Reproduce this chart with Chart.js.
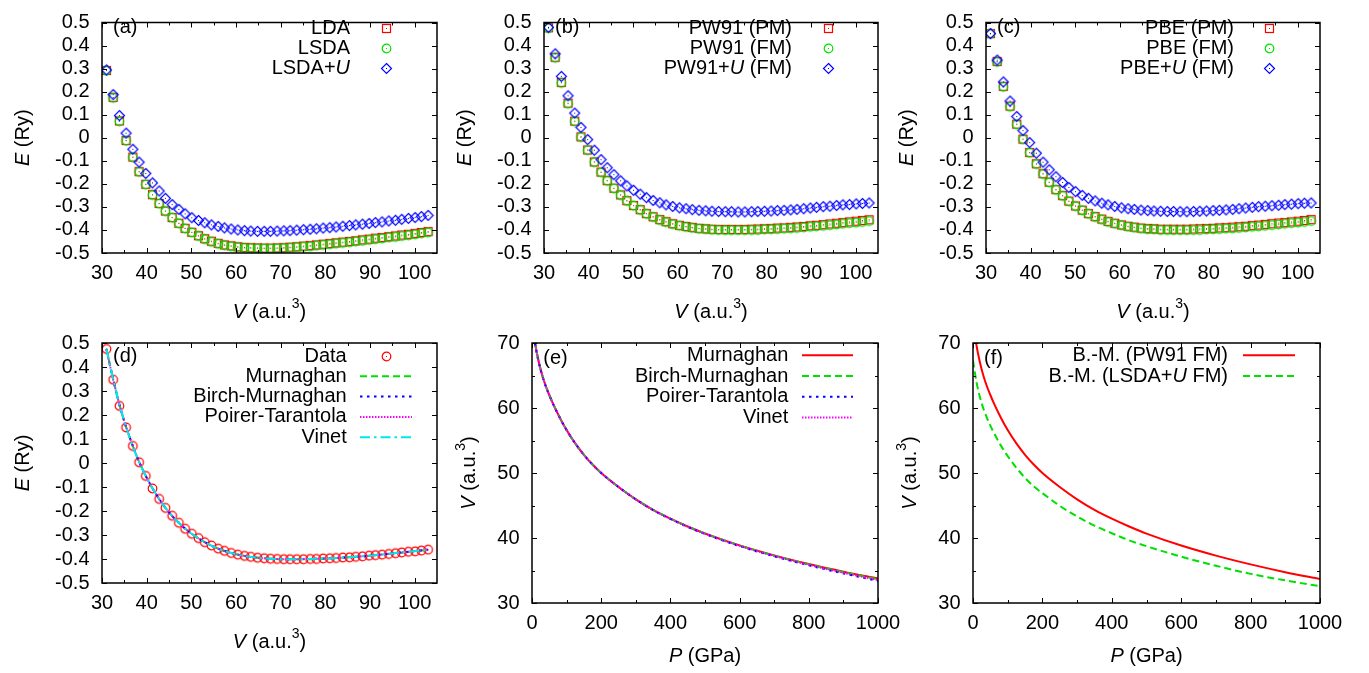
<!DOCTYPE html>
<html><head><meta charset="utf-8">
<script src="https://cdn.jsdelivr.net/npm/chart.js"></script>
<style>
html,body{margin:0;padding:0;background:#fff;width:1369px;height:673px;overflow:hidden}
canvas{position:absolute;left:0;top:0;pointer-events:none}
</style></head><body>
<script>
// ---------------- data ----------------
const volumes = [31.0, 32.5, 33.9, 35.4, 36.9, 38.3, 39.8, 41.3, 42.8, 44.2,
  45.7, 47.2, 48.6, 50.1, 51.6, 53.0, 54.5, 56.0, 57.4, 58.9,
  60.4, 61.9, 63.3, 64.8, 66.3, 67.7, 69.2, 70.7, 72.1, 73.6,
  75.1, 76.6, 78.0, 79.5, 81.0, 82.4, 83.9, 85.4, 86.8, 88.3,
  89.8, 91.2, 92.7, 94.2, 95.7, 97.1, 98.6, 100.1, 101.5, 103.0];

const ldaE = [0.292, 0.175, 0.073, -0.012, -0.084, -0.147, -0.202, -0.247, -0.285, -0.318,
  -0.346, -0.371, -0.393, -0.410, -0.425, -0.438, -0.449, -0.458, -0.465, -0.469,
  -0.473, -0.476, -0.477, -0.478, -0.479, -0.479, -0.478, -0.477, -0.475, -0.473,
  -0.470, -0.468, -0.465, -0.462, -0.459, -0.456, -0.453, -0.450, -0.447, -0.443,
  -0.440, -0.436, -0.433, -0.429, -0.426, -0.422, -0.419, -0.415, -0.411, -0.407];
const lsdaE = [0.291, 0.173, 0.071, -0.013, -0.085, -0.148, -0.203, -0.248, -0.286, -0.319,
  -0.347, -0.372, -0.394, -0.411, -0.426, -0.440, -0.451, -0.460, -0.467, -0.471,
  -0.475, -0.478, -0.479, -0.480, -0.481, -0.481, -0.480, -0.479, -0.477, -0.475,
  -0.473, -0.471, -0.468, -0.465, -0.462, -0.459, -0.456, -0.453, -0.450, -0.447,
  -0.443, -0.440, -0.437, -0.433, -0.430, -0.426, -0.423, -0.419, -0.415, -0.411];
const lsdaUE = [0.294, 0.187, 0.096, 0.020, -0.050, -0.106, -0.155, -0.196, -0.231, -0.263,
  -0.290, -0.311, -0.330, -0.347, -0.359, -0.369, -0.378, -0.385, -0.391, -0.396,
  -0.400, -0.403, -0.405, -0.406, -0.406, -0.406, -0.405, -0.404, -0.403, -0.401,
  -0.399, -0.397, -0.395, -0.392, -0.390, -0.387, -0.384, -0.381, -0.378, -0.375,
  -0.372, -0.368, -0.365, -0.361, -0.358, -0.354, -0.350, -0.346, -0.342, -0.337];

const pw91PME = [0.477, 0.349, 0.240, 0.150, 0.072, 0.004, -0.053, -0.105, -0.149, -0.186,
  -0.219, -0.248, -0.273, -0.294, -0.312, -0.329, -0.343, -0.355, -0.364, -0.373,
  -0.380, -0.385, -0.389, -0.393, -0.395, -0.397, -0.398, -0.398, -0.398, -0.398,
  -0.398, -0.397, -0.396, -0.395, -0.394, -0.392, -0.391, -0.389, -0.387, -0.385,
  -0.382, -0.380, -0.377, -0.374, -0.371, -0.368, -0.365, -0.362, -0.359, -0.356];
const pw91FME = [0.475, 0.347, 0.238, 0.148, 0.071, 0.003, -0.054, -0.106, -0.150, -0.187,
  -0.220, -0.249, -0.274, -0.295, -0.313, -0.330, -0.344, -0.357, -0.366, -0.375,
  -0.382, -0.387, -0.391, -0.395, -0.397, -0.399, -0.400, -0.401, -0.401, -0.401,
  -0.401, -0.400, -0.400, -0.398, -0.397, -0.396, -0.394, -0.393, -0.391, -0.389,
  -0.386, -0.384, -0.382, -0.379, -0.376, -0.373, -0.370, -0.368, -0.365, -0.361];
const pw91UE = [0.479, 0.364, 0.266, 0.182, 0.107, 0.045, -0.008, -0.054, -0.095, -0.130,
  -0.160, -0.187, -0.209, -0.228, -0.245, -0.260, -0.272, -0.282, -0.291, -0.298,
  -0.304, -0.308, -0.312, -0.315, -0.317, -0.319, -0.320, -0.321, -0.321, -0.322,
  -0.322, -0.321, -0.320, -0.319, -0.318, -0.316, -0.315, -0.313, -0.311, -0.308,
  -0.305, -0.302, -0.299, -0.297, -0.294, -0.291, -0.290, -0.287, -0.285, -0.283];

const pbePME = [0.452, 0.331, 0.223, 0.137, 0.059, -0.006, -0.064, -0.113, -0.156, -0.193,
  -0.225, -0.251, -0.275, -0.296, -0.314, -0.329, -0.342, -0.353, -0.363, -0.371,
  -0.378, -0.384, -0.388, -0.392, -0.394, -0.395, -0.397, -0.397, -0.397, -0.397,
  -0.397, -0.396, -0.395, -0.394, -0.393, -0.391, -0.390, -0.388, -0.386, -0.384,
  -0.381, -0.379, -0.376, -0.373, -0.370, -0.368, -0.365, -0.362, -0.359, -0.355];
const pbeFME = [0.451, 0.329, 0.221, 0.135, 0.058, -0.007, -0.065, -0.114, -0.157, -0.194,
  -0.226, -0.252, -0.276, -0.297, -0.315, -0.330, -0.344, -0.355, -0.365, -0.373,
  -0.380, -0.386, -0.390, -0.394, -0.397, -0.398, -0.400, -0.400, -0.401, -0.401,
  -0.401, -0.400, -0.400, -0.398, -0.397, -0.396, -0.394, -0.393, -0.391, -0.389,
  -0.386, -0.384, -0.382, -0.379, -0.376, -0.373, -0.370, -0.368, -0.365, -0.361];
const pbeUE = [0.452, 0.337, 0.242, 0.159, 0.092, 0.031, -0.021, -0.067, -0.106, -0.139,
  -0.169, -0.194, -0.216, -0.234, -0.250, -0.263, -0.274, -0.284, -0.291, -0.298,
  -0.304, -0.308, -0.311, -0.314, -0.316, -0.318, -0.319, -0.320, -0.320, -0.321,
  -0.321, -0.320, -0.319, -0.318, -0.316, -0.315, -0.313, -0.311, -0.308, -0.305,
  -0.302, -0.299, -0.297, -0.295, -0.293, -0.290, -0.288, -0.286, -0.284, -0.283];

const fitV = [31, 32, 33, 34, 35, 36.5, 38, 40, 42, 44, 46, 48, 50, 53, 56, 60, 64, 68, 72, 76, 80, 85, 90, 95, 100, 103];
const fitMurnE = [0.476, 0.390, 0.310, 0.236, 0.172, 0.091, 0.018, -0.061, -0.127, -0.182, -0.227, -0.263, -0.294, -0.330, -0.357, -0.380, -0.393, -0.399, -0.401, -0.401, -0.398, -0.393, -0.386, -0.377, -0.368, -0.361];
const fitBirchE = [0.474, 0.389, 0.310, 0.237, 0.173, 0.091, 0.018, -0.061, -0.127, -0.182, -0.227, -0.263, -0.294, -0.330, -0.357, -0.380, -0.393, -0.399, -0.401, -0.400, -0.398, -0.393, -0.386, -0.377, -0.367, -0.361];
const fitPoirerE = [0.473, 0.388, 0.309, 0.237, 0.173, 0.092, 0.019, -0.061, -0.127, -0.182, -0.227, -0.263, -0.294, -0.330, -0.357, -0.380, -0.393, -0.399, -0.401, -0.400, -0.398, -0.393, -0.386, -0.377, -0.367, -0.360];
const fitVinetE = [0.474, 0.389, 0.310, 0.237, 0.173, 0.091, 0.018, -0.061, -0.127, -0.182, -0.227, -0.263, -0.294, -0.330, -0.357, -0.380, -0.393, -0.399, -0.401, -0.400, -0.398, -0.393, -0.386, -0.377, -0.367, -0.361];

const pressures = [0, 10, 20, 30, 40, 50, 60, 80, 100, 125, 150, 175, 200, 250, 300, 350, 400, 450, 500, 600, 700, 800, 900, 1000];
const vMurn   = [73.5, 69.65, 67.0, 64.95, 63.35, 62.0, 60.75, 58.55, 56.6, 54.55, 52.8, 51.3, 50.0, 47.85, 45.95, 44.33, 42.97, 41.77, 40.7, 38.86, 37.33, 36.0, 34.82, 33.75];
const vBirch  = [73.5, 69.65, 67.0, 64.95, 63.35, 62.0, 60.75, 58.55, 56.6, 54.55, 52.8, 51.3, 50.0, 47.85, 45.95, 44.33, 42.97, 41.77, 40.68, 38.84, 37.29, 35.94, 34.74, 33.65];
const vPoirer = [73.2, 69.5, 66.9, 64.9, 63.3, 61.95, 60.73, 58.55, 56.6, 54.55, 52.8, 51.3, 50.0, 47.85, 45.95, 44.3, 42.93, 41.71, 40.62, 38.76, 37.18, 35.8, 34.55, 33.4];
const vVinet  = [73.3, 69.55, 66.95, 64.92, 63.32, 61.97, 60.74, 58.55, 56.6, 54.55, 52.8, 51.3, 50.0, 47.85, 45.95, 44.31, 42.95, 41.74, 40.65, 38.8, 37.24, 35.87, 34.65, 33.52];
const vBMPW91   = [73.5, 69.65, 67.0, 64.95, 63.35, 62.0, 60.75, 58.55, 56.6, 54.55, 52.8, 51.3, 50.0, 47.85, 45.95, 44.33, 42.97, 41.77, 40.68, 38.84, 37.29, 35.94, 34.74, 33.7];
const vBMLSDAU  = [67.3, 64.0, 61.65, 59.9, 58.5, 57.3, 56.2, 54.25, 52.6, 50.8, 49.25, 47.95, 46.9, 44.95, 43.31, 41.9, 40.73, 39.65, 38.74, 37.13, 35.73, 34.48, 33.48, 32.58];

const eTicks = [-0.5, -0.4, -0.3, -0.2, -0.1, 0, 0.1, 0.2, 0.3, 0.4, 0.5];
const volXTicks = [30, 40, 50, 60, 70, 80, 90, 100];
const volXMinor = [35, 45, 55, 65, 75, 85, 95];
const presXTicks = [0, 200, 400, 600, 800, 1000];
const presXMinor = [100, 300, 500, 700, 900];
const volYTicks = [30, 40, 50, 60, 70];
const volYMinor = [35, 45, 55, 65];

// ---------------- helpers ----------------
const FONT = '"Liberation Sans", Arial, Helvetica, sans-serif';
const RED = '#ff0000', GREEN = '#00e000', BLUE = '#0000ff', MAG = '#ff00ff', CYAN = '#00e8e8';
const YW = 60, XH = 40;

function marker(kind, color) {
  const c = document.createElement('canvas'); c.width = 13; c.height = 13;
  const g = c.getContext('2d'); g.strokeStyle = color; g.fillStyle = color; g.lineWidth = 1.2;
  if (kind === 'sq') g.strokeRect(2.5, 2.5, 8, 8);
  else if (kind === 'ci') { g.beginPath(); g.arc(6.5, 6.5, 4.3, 0, Math.PI * 2); g.stroke(); }
  else { g.beginPath(); g.moveTo(6.5, 1.5); g.lineTo(11.5, 6.5); g.lineTo(6.5, 11.5); g.lineTo(1.5, 6.5); g.closePath(); g.stroke(); }
  g.fillRect(6, 6, 1, 1);
  return c;
}
const mSqR = marker('sq', RED), mCiG = marker('ci', GREEN), mDiB = marker('di', BLUE), mCiR = marker('ci', RED);

function pts(xs, ys) { return xs.map((x, i) => ({ x: x, y: ys[i] })); }
function scat(label, ys, img, color, i) {
  return { label, data: pts(volumes, ys), showLine: false, pointStyle: img, pointRadius: 4,
    borderColor: color, backgroundColor: color, order: -i };
}
function line(label, xs, ys, color, dash, i) {
  return { label, data: pts(xs, ys), borderColor: color, backgroundColor: color, borderWidth: 2,
    borderDash: dash, pointRadius: 0, fill: false, cubicInterpolationMode: 'monotone', order: -i };
}
function richSegs(s) { return s.split(/(?<=\+)(U)/).map((t, i) => ({ t, i: i % 2 === 1 })).filter(s => s.t); }
function drawRich(ctx, segs, x, y, align, size) {
  const fontOf = s => (s.i ? 'italic ' : '') + (s.sup ? size * 0.7 : size) + 'px ' + FONT;
  let w = 0;
  const ws = segs.map(s => { ctx.font = fontOf(s); const m = ctx.measureText(s.t).width; w += m; return m; });
  let cx = align === 'right' ? x - w : (align === 'center' ? x - w / 2 : x);
  ctx.textAlign = 'left';
  segs.forEach((s, k) => { ctx.font = fontOf(s); ctx.fillText(s.t, cx, y - (s.sup ? size * 0.5 : 0)); cx += ws[k]; });
}
function fmt(v) { return String(Math.round(v * 10) / 10); }

const TITLE_E = [{ t: 'E', i: true }, { t: ' (Ry)' }];
const TITLE_V = [{ t: 'V', i: true }, { t: ' (a.u.' }, { t: '3', sup: true }, { t: ')' }];
const TITLE_P = [{ t: 'P', i: true }, { t: ' (GPa)' }];

const decor = {
  id: 'decor',
  afterDatasetsDraw(chart, args, o) {
    const ctx = chart.ctx, a = chart.chartArea, xs = chart.scales.x, ys = chart.scales.y;
    ctx.save();
    ctx.strokeStyle = '#000'; ctx.lineWidth = 1;
    ctx.beginPath();
    const tx = (vals, len) => vals.forEach(v => { const px = Math.round(xs.getPixelForValue(v)) + 0.5;
      ctx.moveTo(px, a.bottom); ctx.lineTo(px, a.bottom - len); ctx.moveTo(px, a.top); ctx.lineTo(px, a.top + len); });
    const ty = (vals, len) => vals.forEach(v => { const py = Math.round(ys.getPixelForValue(v)) + 0.5;
      ctx.moveTo(a.left, py); ctx.lineTo(a.left + len, py); ctx.moveTo(a.right, py); ctx.lineTo(a.right - len, py); });
    tx(o.xMajor, 5); tx(o.xMinor, 3); ty(o.yMajor, 5); ty(o.yMinor, 3);
    ctx.stroke();
    ctx.lineWidth = 1.5;
    ctx.strokeRect(a.left, a.top, a.right - a.left, a.bottom - a.top);
    ctx.fillStyle = '#000'; ctx.textBaseline = 'middle';
    drawRich(ctx, [{ t: o.tag }], o.tagX, o.tagY, 'left', 20);
    chart.data.datasets.forEach((ds, i) => {
      const y = o.legY + i * o.legDy;
      ctx.fillStyle = '#000'; ctx.textBaseline = 'middle';
      drawRich(ctx, richSegs(ds.label), o.legRight, y, 'right', 20);
      if (ds.showLine === false) {
        const img = ds.pointStyle; ctx.drawImage(img, Math.round(o.legSample - img.width / 2), Math.round(y - img.height / 2));
      } else {
        ctx.save(); ctx.strokeStyle = ds.borderColor; ctx.lineWidth = ds.borderWidth; ctx.setLineDash(ds.borderDash || []);
        ctx.beginPath(); ctx.moveTo(o.legX1, y); ctx.lineTo(o.legX2, y); ctx.stroke(); ctx.restore();
      }
    });
    ctx.fillStyle = '#000'; ctx.textBaseline = 'alphabetic';
    drawRich(ctx, o.xTitle, (a.left + a.right) / 2, o.xTitleY, 'center', 20);
    ctx.save(); ctx.translate(o.yTitleX, (a.top + a.bottom) / 2); ctx.rotate(-Math.PI / 2);
    drawRich(ctx, o.yTitle, 0, 0, 'center', 20); ctx.restore();
    ctx.restore();
  }
};

function makeChart(p) {
  const cv = document.createElement('canvas');
  cv.width = 1369; cv.height = 673; document.body.appendChild(cv);
  const tickFont = { family: FONT, size: 20 };
  new Chart(cv, {
    type: 'line',
    data: { datasets: p.datasets },
    options: {
      responsive: false, animation: false, events: [], devicePixelRatio: 1,
      layout: { padding: { left: p.L - YW, top: p.T, right: 1369 - p.R, bottom: 673 - p.B - XH } },
      plugins: { legend: { display: false }, tooltip: { enabled: false }, decor: p.decor },
      scales: {
        x: { type: 'linear', min: p.xMin, max: p.xMax,
          afterBuildTicks: s => { s.ticks = p.xTicks.map(v => ({ value: v })); },
          afterFit: s => { s.height = XH; },
          grid: { display: false, drawTicks: false }, border: { display: false },
          ticks: { padding: 8.5, color: '#000', font: tickFont, maxRotation: 0, minRotation: 0, autoSkip: false, callback: v => fmt(v) } },
        y: { type: 'linear', min: p.yMin, max: p.yMax,
          afterBuildTicks: s => { s.ticks = p.yTicks.map(v => ({ value: v })); },
          afterFit: s => { s.width = YW; },
          grid: { display: false, drawTicks: false }, border: { display: false },
          ticks: { padding: 12.5, color: '#000', font: { family: FONT, size: 20, lineHeight: 1 }, autoSkip: false, callback: v => fmt(v) } }
      }
    },
    plugins: [decor]
  });
}

function ePanel(L, T, B, R, tag, tagX, tagY, labels, series, legRight, legSample) {
  return {
    L, T, B, R, xMin: 30, xMax: 105, yMin: -0.5, yMax: 0.5, xTicks: volXTicks, yTicks: eTicks,
    datasets: [scat(labels[0], series[0], mSqR, RED, 0), scat(labels[1], series[1], mCiG, GREEN, 1), scat(labels[2], series[2], mDiB, BLUE, 2)],
    decor: { xMajor: volXTicks, xMinor: volXMinor, yMajor: eTicks, yMinor: [], tag, tagX, tagY,
      legY: T + 15.3, legDy: 20, legRight, legSample,
      xTitle: TITLE_V, xTitleY: B + 65, yTitle: TITLE_E, yTitleX: L - 73 }
  };
}

makeChart(ePanel(102, 13, 253, 437, '(a)', 113, 27, ['LDA', 'LSDA', 'LSDA+U'], [ldaE, lsdaE, lsdaUE], 350, 386));
makeChart(ePanel(544, 13, 253, 878, '(b)', 555, 27, ['PW91 (PM)', 'PW91 (FM)', 'PW91+U (FM)'], [pw91PME, pw91FME, pw91UE], 792, 828));
makeChart(ePanel(986, 13, 253, 1320, '(c)', 997, 27, ['PBE (PM)', 'PBE (FM)', 'PBE+U (FM)'], [pbePME, pbeFME, pbeUE], 1234, 1269));

makeChart({
  L: 102, T: 343, B: 583, R: 437, xMin: 30, xMax: 105, yMin: -0.5, yMax: 0.5, xTicks: volXTicks, yTicks: eTicks,
  datasets: [
    scat('Data', pw91FME, mCiR, RED, 0),
    line('Murnaghan', fitV, fitMurnE, GREEN, [7, 4], 1),
    line('Birch-Murnaghan', fitV, fitBirchE, BLUE, [2.5, 4.5], 2),
    line('Poirer-Tarantola', fitV, fitPoirerE, MAG, [1.5, 1.5], 3),
    line('Vinet', fitV, fitVinetE, CYAN, [10, 4, 2.5, 4], 4)
  ],
  decor: { xMajor: volXTicks, xMinor: volXMinor, yMajor: eTicks, yMinor: [], tag: '(d)', tagX: 113, tagY: 356.7,
    legY: 356, legDy: 20.3, legRight: 346.7, legSample: 386, legX1: 360, legX2: 412,
    xTitle: TITLE_V, xTitleY: 648, yTitle: TITLE_E, yTitleX: 29 }
});

makeChart({
  L: 532, T: 343, B: 603, R: 878, xMin: 0, xMax: 1000, yMin: 30, yMax: 70, xTicks: presXTicks, yTicks: volYTicks,
  datasets: [
    line('Murnaghan', pressures, vMurn, RED, [], 0),
    line('Birch-Murnaghan', pressures, vBirch, GREEN, [7, 4], 1),
    line('Poirer-Tarantola', pressures, vPoirer, BLUE, [2.5, 4.5], 2),
    line('Vinet', pressures, vVinet, MAG, [1.5, 1.5], 3)
  ],
  decor: { xMajor: presXTicks, xMinor: presXMinor, yMajor: volYTicks, yMinor: volYMinor, tag: '(e)', tagX: 543.3, tagY: 358.3,
    legY: 355.3, legDy: 20.7, legRight: 788.3, legX1: 802, legX2: 853,
    xTitle: TITLE_P, xTitleY: 662, yTitle: TITLE_V, yTitleX: 475 }
});

makeChart({
  L: 973, T: 343, B: 603, R: 1320, xMin: 0, xMax: 1000, yMin: 30, yMax: 70, xTicks: presXTicks, yTicks: volYTicks,
  datasets: [
    line('B.-M. (PW91 FM)', pressures, vBMPW91, RED, [], 0),
    line('B.-M. (LSDA+U FM)', pressures, vBMLSDAU, GREEN, [7, 4], 1)
  ],
  decor: { xMajor: presXTicks, xMinor: presXMinor, yMajor: volYTicks, yMinor: volYMinor, tag: '(f)', tagX: 984, tagY: 358,
    legY: 355.3, legDy: 20.7, legRight: 1228, legX1: 1243, legX2: 1295,
    xTitle: TITLE_P, xTitleY: 662, yTitle: TITLE_V, yTitleX: 916 }
});
</script>
</body></html>
